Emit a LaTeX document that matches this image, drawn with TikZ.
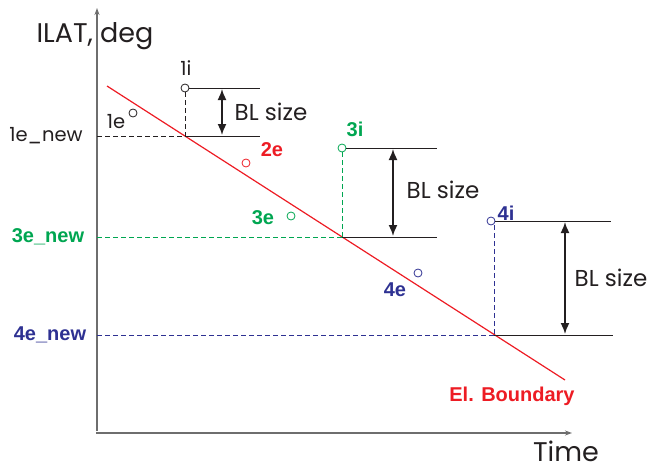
\documentclass[tikz,border=0pt]{standalone}
\usepackage{fontspec}
\setmainfont{Poppins}
\newfontfamily\labfont{Liberation Sans}
\usetikzlibrary{arrows.meta}
\definecolor{elred}{RGB}{237,28,36}
\definecolor{grn}{RGB}{0,166,81}
\definecolor{blu}{RGB}{46,49,146}
\definecolor{axgray}{RGB}{110,110,110}
\definecolor{ink}{RGB}{35,31,32}
\tikzset{
  axis/.style={draw=axgray, line width=1.3pt, -{Stealth[length=7pt,width=5pt]}},
  pt/.style={circle, draw, inner sep=0pt, minimum size=8pt, line width=0.8pt},
  lvl/.style={draw=ink, line width=0.9pt},
  dsh/.style={dash pattern=on 5pt off 3pt, line width=0.8pt},
  bl/.style={draw=ink, {Latex[length=11pt,width=9pt]}-{Latex[length=11pt,width=9pt]}, line width=1.6pt},
  plain/.style={text=ink, inner sep=0pt, font=\fontsize{23}{23}\selectfont},
  big/.style={text=ink, inner sep=0pt, font=\fontsize{27}{27}\selectfont},
  small/.style={text=ink, inner sep=0pt, font=\fontsize{19.5}{19.5}\selectfont},
  boldlab/.style={inner sep=0pt, font=\labfont\bfseries\fontsize{20}{20}\selectfont}
}
\begin{document}
\begin{tikzpicture}[x=1pt,y=-1pt]
\path[use as bounding box] (0,0) rectangle (649,471);
% axes
\coordinate (ybot) at (97,431);
\coordinate (ytop) at (97,8);
\coordinate (xl) at (96,433);
\coordinate (xr) at (572,433);
\draw[axis] (ybot) -- (ytop);
\draw[axis] (xl) -- (xr);
\node[big] (ylab) at (95,36) {ILAT, deg};
\node[big] (xlab) at (566,451) {Time};
% boundary
\coordinate (b1) at (107,86);
\coordinate (b2) at (565,380);
\draw[elred, line width=1.2pt] (b1) -- (b2);
\node[boldlab, text=elred] (blab) at (512,396) {El. Boundary};
% intersections
\coordinate (e1) at (185,136);
\coordinate (e3) at (342,237);
\coordinate (e4) at (494,335);
\coordinate (y1) at (97,136);
\coordinate (y3) at (97,237);
\coordinate (y4) at (97,335);
% level 1
\node[pt, draw=ink] (i1) at (185,88) {};
\node[small] (i1lab) at (186,68) {1i};
\node[pt, draw=ink] (p1e) at (133,113) {};
\node[small] (p1elab) at (116,122) {1e};
\node[small] (n1) at (46,136) {1e\_new};
\draw[dsh, ink] (y1) -- (e1);
\draw[dsh, ink] (i1.south) -- (e1);
\coordinate (t1r) at (260,88);
\coordinate (b1r) at (260,136);
\draw[lvl] (i1.east) -- (t1r);
\draw[lvl] (e1) -- (b1r);
\coordinate (a1t) at (222,89);
\coordinate (a1b) at (222,135);
\draw[bl] (a1t) -- (a1b);
\node[plain] (bl1) at (271,112) {BL size};
% 2e
\node[pt, draw=elred] (p2e) at (246,163) {};
\node[boldlab, text=elred] (p2elab) at (272,150) {2e};
% level 3
\node[pt, draw=grn] (p3e) at (291,216) {};
\node[boldlab, text=grn] (p3elab) at (263,218) {3e};
\node[boldlab, text=grn] (n3) at (48,237) {3e\_new};
\node[pt, draw=grn] (i3) at (342,148) {};
\node[boldlab, text=grn] (i3lab) at (355,129) {3i};
\draw[dsh, grn] (y3) -- (e3);
\draw[dsh, grn] (i3.south) -- (e3);
\coordinate (t3r) at (437,148);
\coordinate (b3r) at (437,237);
\draw[lvl] (i3.east) -- (t3r);
\draw[lvl] (e3) -- (b3r);
\coordinate (a3t) at (393,149);
\coordinate (a3b) at (393,236);
\draw[bl] (a3t) -- (a3b);
\node[plain] (bl3) at (443,190) {BL size};
% level 4
\node[pt, draw=blu] (p4e) at (418,273) {};
\node[boldlab, text=blu] (p4elab) at (395,290) {4e};
\node[boldlab, text=blu] (n4) at (50,335) {4e\_new};
\node[pt, draw=blu] (i4) at (491,221) {};
\node[boldlab, text=blu] (i4lab) at (506,213) {4i};
\draw[dsh, blu] (y4) -- (e4);
\draw[dsh, blu] (i4.south -| e4) -- (e4);
\coordinate (t4r) at (611,221);
\coordinate (b4r) at (613,335);
\draw[lvl] (i4.east) -- (t4r);
\draw[lvl] (e4) -- (b4r);
\coordinate (a4t) at (565,222);
\coordinate (a4b) at (565,334);
\draw[bl] (a4t) -- (a4b);
\node[plain] (bl4) at (611,278) {BL size};
\end{tikzpicture}
\end{document}
